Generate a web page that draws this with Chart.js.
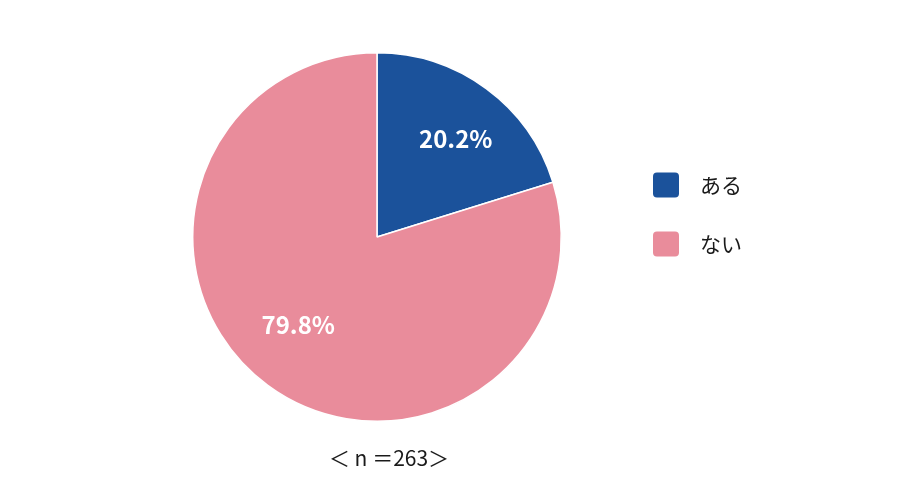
<!DOCTYPE html>
<html>
<head>
<meta charset="utf-8">
<script src="https://cdn.jsdelivr.net/npm/chart.js@4"></script>
<style>
  html, body { margin: 0; padding: 0; background: #fff; }
  #wrap { width: 900px; height: 503px; position: relative; }
</style>
</head>
<body>
<div id="wrap"><canvas id="pie" width="900" height="503"></canvas></div>
<script>
const categories = ["ある", "ない"];
const shares = [20.2, 79.8];
const sliceColors = ["#1B529B", "#E98C9B"];
const sampleNote = "＜ n ＝263＞";

// percentage labels inside slices + legend + sample size note
const decorations = {
  id: "decorations",
  afterDatasetsDraw(chart) {
    const ctx = chart.ctx;
    const meta = chart.getDatasetMeta(0);
    ctx.save();
    ctx.fillStyle = "#fff";
    ctx.font = "bold 24px 'Noto Sans CJK JP', sans-serif";
    ctx.textAlign = "center";
    ctx.textBaseline = "middle";
    meta.data.forEach((arc, i) => {
      const p = arc.getProps(["x", "y", "startAngle", "endAngle", "outerRadius"], true);
      const mid = (p.startAngle + p.endAngle) / 2 + 4 * Math.PI / 180;
      const r = p.outerRadius * 0.66;
      ctx.fillText(shares[i].toFixed(1) + "%", p.x + Math.cos(mid) * r, p.y + Math.sin(mid) * r - 5);
    });

    // legend
    ctx.font = "21px 'Noto Sans CJK JP', sans-serif";
    ctx.textAlign = "left";
    categories.forEach((name, i) => {
      const y = 185 + i * 59;
      ctx.fillStyle = sliceColors[i];
      ctx.beginPath();
      ctx.roundRect(653, y - 12.5, 26, 25, 4);
      ctx.fill();
      ctx.fillStyle = "#1a1a1a";
      ctx.fillText(name, 700, y);
    });

    // sample size
    ctx.font = "21px 'Noto Sans CJK JP', sans-serif";
    ctx.textAlign = "center";
    ctx.fillText(sampleNote, 389, 458);
    ctx.restore();
  }
};

new Chart(document.getElementById("pie"), {
  type: "pie",
  data: {
    labels: categories,
    datasets: [{
      data: shares,
      backgroundColor: sliceColors,
      borderColor: "#fff",
      borderWidth: 1.5
    }]
  },
  options: {
    responsive: false,
    animation: false,
    layout: { padding: { left: 192, right: 338, top: 52, bottom: 81 } },
    plugins: {
      legend: { display: false },
      tooltip: { enabled: false }
    }
  },
  plugins: [decorations]
});
</script>
</body>
</html>
